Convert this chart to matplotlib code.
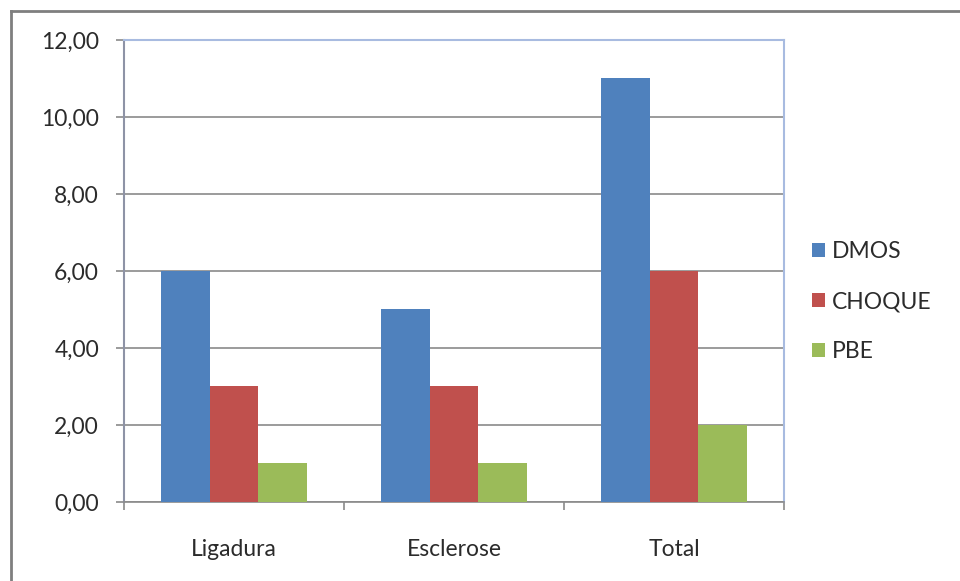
import matplotlib
matplotlib.use("Agg")
import matplotlib.pyplot as plt
from matplotlib.lines import Line2D
from matplotlib.patches import Patch
import numpy as np

plt.rcParams['font.family'] = ['Lato', 'DejaVu Sans']

categories = ["Ligadura", "Esclerose", "Total"]
series_names = ["DMOS", "CHOQUE", "PBE"]
dmos = [6, 5, 11]
choque = [3, 3, 6]
pbe = [1, 1, 2]
yticks = [0, 2, 4, 6, 8, 10, 12]

colors = ["#4F81BD", "#C0504D", "#9BBB59"]
text_color = "#2b2b2b"
grid_color = "#8a8a8a"

fig = plt.figure(figsize=(9.6, 5.81), dpi=100)
fig.patch.set_facecolor("white")
ax = fig.add_axes([0.1292, 0.1360, 0.6875, 0.7952])

x = np.arange(len(categories))
width = 0.22
for i, (vals, name, c) in enumerate(zip([dmos, choque, pbe], series_names, colors)):
    ax.bar(x + (i - 1) * width, vals, width, color=c, label=name, zorder=3)

ax.set_xlim(-0.5, len(categories) - 0.5)
ax.set_ylim(0, 12)
ax.set_yticks(yticks)
ax.set_yticklabels([f"{v:.2f}".replace(".", ",") for v in yticks])
ax.yaxis.grid(True, color=grid_color, linewidth=1.2, zorder=0)
ax.set_axisbelow(True)

# category labels at centers, tick marks at boundaries
ax.set_xticks(x)
ax.set_xticklabels(categories)
ax.set_xticks(np.arange(-0.5, len(categories)), minor=True)
ax.tick_params(axis='x', which='major', length=0, pad=27, labelsize=16.5, colors=text_color)
ax.tick_params(axis='x', which='minor', length=6, width=1.2, color=grid_color, direction='out')
ax.tick_params(axis='y', length=6, width=1.2, color=grid_color, pad=12, labelsize=16.5, colors=text_color)

for side in ["top", "right"]:
    ax.spines[side].set_color("#a8bbe0")
    ax.spines[side].set_linewidth(1.5)
ax.spines["left"].set_color("#8e93a6")
ax.spines["left"].set_linewidth(1.5)
ax.spines["bottom"].set_color(grid_color)
ax.spines["bottom"].set_linewidth(1.2)

handles = [Patch(facecolor=c, edgecolor='none') for c in colors]
fig.legend(handles, series_names, loc='center left', bbox_to_anchor=(0.834, 0.481),
           frameon=False, fontsize=16.5, handlelength=0.55, handleheight=0.55,
           handletextpad=0.3, labelspacing=1.27, borderpad=0, labelcolor=text_color)

# outer chart frame
fig.add_artist(Line2D([0.0115, 0.0115], [0.0, 1 - 11 / 581], transform=fig.transFigure,
                      color="#7f7f7f", linewidth=2))
fig.add_artist(Line2D([0.0115, 1.0], [1 - 11 / 581, 1 - 11 / 581], transform=fig.transFigure,
                      color="#7f7f7f", linewidth=2))

fig.savefig("out.png", dpi=100, facecolor="white")
